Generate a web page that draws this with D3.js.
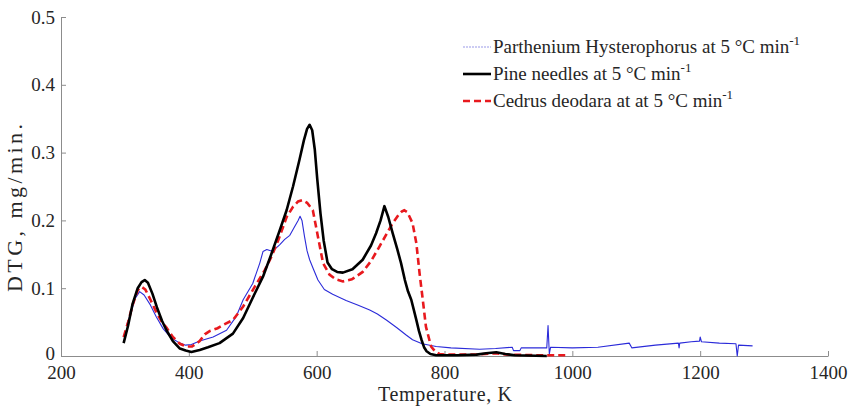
<!DOCTYPE html>
<html><head><meta charset="utf-8">
<script src="https://cdn.jsdelivr.net/npm/d3@7"></script>
<style>
html,body{margin:0;padding:0;background:#fff;}
svg{display:block;}
svg text{font-family:"Liberation Serif","Times New Roman",serif !important;fill:#262626;}
</style></head>
<body>
<svg id="chart" width="852" height="406"></svg>
<script>
// ---- data ----
const xTicks = [200, 400, 600, 800, 1000, 1200, 1400];
const yTicks = [0, 0.1, 0.2, 0.3, 0.4, 0.5];
const yTickLabels = ["0", "0.1", "0.2", "0.3", "0.4", "0.5"];
const seriesNames = ["Parthenium Hysterophorus at 5 °C min", "Pine needles at 5 °C min", "Cedrus deodara at at 5 °C min"];

const partheniumT = [303,310,316,323,330,340,349,360,372,386,395,404,417,438,459,474,485,500,511,516,522,529,535,542,550,558,565,571,574,577,581,585,589,595,602,612,625,646,665,683,695,709,725,740,750,765,787,810,855,880,906,908,918,920,960,962,964,966,1000,1040,1089,1093,1130,1166,1167,1168,1186,1199,1200,1202,1230,1256,1258,1260,1282];
const partheniumDTG = [0.046,0.065,0.085,0.095,0.090,0.075,0.058,0.040,0.027,0.019,0.016,0.017,0.022,0.028,0.038,0.058,0.083,0.107,0.137,0.154,0.157,0.155,0.158,0.164,0.172,0.178,0.190,0.200,0.206,0.200,0.176,0.155,0.142,0.128,0.112,0.098,0.091,0.082,0.075,0.068,0.062,0.053,0.042,0.031,0.024,0.018,0.014,0.012,0.010,0.011,0.013,0.008,0.008,0.012,0.012,0.045,0.003,0.013,0.012,0.013,0.019,0.012,0.016,0.019,0.012,0.019,0.021,0.022,0.028,0.021,0.019,0.018,0.000,0.016,0.015];

const pineT = [298,305,312,320,326,331,336,343,350,358,365,375,386,395,404,417,430,448,469,485,500,516,529,542,553,563,573,580,585,589,593,597,601,606,611,617,624,632,641,656,672,685,693,700,706,712,719,726,732,738,743,748,752,756,760,764,768,772,778,787,820,850,865,881,895,910,960];
const pineDTG = [0.019,0.045,0.077,0.100,0.109,0.112,0.108,0.092,0.072,0.052,0.038,0.022,0.011,0.008,0.006,0.009,0.013,0.019,0.033,0.056,0.086,0.117,0.150,0.185,0.215,0.250,0.289,0.318,0.335,0.341,0.333,0.305,0.260,0.210,0.170,0.138,0.128,0.124,0.123,0.128,0.142,0.163,0.181,0.200,0.221,0.205,0.181,0.158,0.137,0.112,0.095,0.083,0.068,0.053,0.037,0.024,0.013,0.007,0.003,0.001,0.001,0.002,0.004,0.0055,0.003,0.001,0.000];

const cedrusT = [298,305,312,320,326,332,340,350,358,365,375,386,396,405,417,425,433,445,454,469,485,503,519,529,540,553,563,571,578,585,594,602,610,620,630,641,655,672,685,698,719,728,733,737,742,750,756,761,766,771,779,785,792,800,850,880,900,950,995];
const cedrusDTG = [0.028,0.050,0.075,0.097,0.102,0.098,0.083,0.063,0.050,0.042,0.028,0.018,0.014,0.014,0.022,0.032,0.037,0.041,0.046,0.053,0.073,0.102,0.127,0.146,0.171,0.205,0.220,0.228,0.230,0.226,0.215,0.176,0.137,0.120,0.113,0.110,0.113,0.124,0.140,0.161,0.196,0.208,0.213,0.215,0.212,0.196,0.166,0.122,0.083,0.043,0.014,0.007,0.003,0.002,0.002,0.004,0.002,0.001,0.001];

// ---- layout ----
const svg = d3.select("#chart");
const x = d3.scaleLinear().domain([200, 1400]).range([61, 828]);
const y = d3.scaleLinear().domain([0, 0.5]).range([356, 17]);

const axisColor = "#8c8c8c";

// x axis
const xAxis = svg.append("g").attr("transform", "translate(0,356)")
  .call(d3.axisBottom(x).tickValues(xTicks).tickFormat(d3.format("d")).tickSizeInner(-5).tickSizeOuter(0).tickPadding(10));
// y axis
const yAxis = svg.append("g").attr("transform", "translate(61,0)")
  .call(d3.axisLeft(y).tickValues(yTicks).tickFormat((d,i)=>yTickLabels[i]).tickSizeInner(-5).tickSizeOuter(0).tickPadding(6));
[xAxis, yAxis].forEach(g => {
  g.attr("font-family", "Liberation Serif").attr("font-size", 19);
  g.select(".domain").attr("stroke", axisColor).attr("stroke-width", 1);
  g.selectAll(".tick line").attr("stroke", axisColor);
  g.selectAll(".tick text").attr("fill", "#262626");
});
xAxis.selectAll(".tick text").attr("dy", "0.71em");
yAxis.selectAll(".tick text").filter(d => d === 0).attr("dy", "0.2em");

// lines
const line = (xs, ys) => d3.line().x((d,i)=>x(xs[i])).y((d,i)=>y(ys[i]))(xs);
svg.append("path").attr("d", line(partheniumT, partheniumDTG))
  .attr("fill","none").attr("stroke","#2b2bd9").attr("stroke-width",1.1).attr("stroke-linejoin","round");
svg.append("path").attr("d", line(cedrusT, cedrusDTG))
  .attr("fill","none").attr("stroke","#e8191e").attr("stroke-width",2.6).attr("stroke-dasharray","7,4");
svg.append("path").attr("d", line(pineT, pineDTG))
  .attr("fill","none").attr("stroke","#000").attr("stroke-width",2.6).attr("stroke-linejoin","round");

// axis labels
svg.append("text").attr("x", 445).attr("y", 401).attr("text-anchor","middle")
  .attr("font-size", 20).attr("textLength", 134).attr("lengthAdjust","spacing").text("Temperature, K");
svg.append("text").attr("transform","translate(22,208) rotate(-90)").attr("text-anchor","middle")
  .attr("font-size", 22).attr("textLength", 168).attr("lengthAdjust","spacing").text("DTG, mg/min.");

// legend
const legY = [47, 74, 101];
const legStyles = [
  {stroke:"#9a9ae8", w:1.2, dash:"2,1"},
  {stroke:"#000", w:2.6, dash:null},
  {stroke:"#e8191e", w:2.6, dash:"7,4"}
];
const leg = svg.append("g");
seriesNames.forEach((name, i) => {
  const s = legStyles[i];
  leg.append("line").attr("x1",463).attr("x2",491).attr("y1",legY[i]).attr("y2",legY[i])
    .attr("stroke",s.stroke).attr("stroke-width",s.w).attr("stroke-dasharray",s.dash);
  const t = leg.append("text").attr("x",493).attr("y",legY[i]+6).attr("font-size", 19);
  t.append("tspan").text(name);
  t.append("tspan").attr("dy",-8).attr("font-size", 13).text("-1");
});
</script>
</body></html>
